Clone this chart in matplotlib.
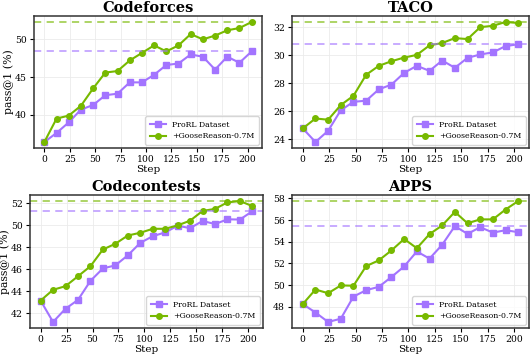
import matplotlib
matplotlib.use("Agg")
import matplotlib.pyplot as plt
from matplotlib.ticker import MultipleLocator

steps = [0, 12, 24, 36, 48, 60, 72, 84, 96, 108, 120, 132, 144, 156, 168, 180, 192, 204]

titles = ["Codeforces", "TACO", "Codecontests", "APPS"]
ytick_step = [5, 2, 2, 2]

prorl_codeforces = [36.4, 37.6, 39.0, 40.7, 41.3, 42.6, 42.8, 44.3, 44.3, 45.3, 46.6, 46.8, 48.0, 47.7, 46.0, 47.7, 46.9, 48.4]
goose_codeforces = [36.4, 39.5, 39.9, 41.2, 43.5, 45.6, 45.8, 47.2, 48.2, 49.2, 48.4, 49.2, 50.7, 50.0, 50.5, 51.2, 51.5, 52.3]

prorl_taco = [24.77, 23.8, 24.6, 26.07, 26.67, 26.75, 27.56, 27.9, 28.74, 29.24, 28.88, 29.62, 29.1, 29.81, 30.05, 30.2, 30.65, 30.78]
goose_taco = [24.77, 25.48, 25.39, 26.44, 27.1, 28.6, 29.24, 29.57, 29.83, 30.02, 30.7, 30.87, 31.22, 31.15, 32.0, 32.1, 32.37, 32.3]

prorl_codecontests = [43.14, 41.2, 42.4, 43.2, 44.93, 46.06, 46.34, 47.25, 48.38, 48.99, 49.33, 49.94, 49.72, 50.37, 50.09, 50.52, 50.5, 51.26]
goose_codecontests = [43.14, 44.12, 44.45, 45.35, 46.26, 47.78, 48.3, 49.05, 49.3, 49.66, 49.66, 49.97, 50.4, 51.28, 51.47, 52.06, 52.18, 51.72]

prorl_apps = [48.25, 47.47, 46.6, 46.9, 48.94, 49.53, 49.84, 50.75, 51.72, 53.1, 52.44, 53.72, 55.44, 54.72, 55.34, 54.84, 55.06, 54.88]
goose_apps = [48.25, 49.59, 49.25, 49.97, 49.94, 51.75, 52.28, 53.2, 54.25, 53.4, 54.7, 55.5, 56.75, 55.7, 56.06, 56.06, 56.97, 57.75]

PURPLE = "#a374ff"
GREEN = "#77b900"

plt.rcParams["font.family"] = "DejaVu Serif"

W, H = 531, 357
fig = plt.figure(figsize = (W / 100, H / 100), dpi = 100)

# axes boxes in pixels: left, top, right, bottom
boxes = [(34, 16, 262, 148), (292, 16, 529, 148), (30, 195, 263, 328), (292, 195, 529, 328)]

series = [(prorl_codeforces, goose_codeforces), (prorl_taco, goose_taco),
          (prorl_codecontests, goose_codecontests), (prorl_apps, goose_apps)]

for i, (box, title, (prorl, goose)) in enumerate(zip(boxes, titles, series)):
  l, t, r, b = box
  ax = fig.add_axes([l / W, 1 - b / H, (r - l) / W, (b - t) / H])

  ax.plot(steps, prorl, color = PURPLE, marker = "s", markersize = 4, linewidth = 1.5, label = "ProRL Dataset")
  ax.plot(steps, goose, color = GREEN, marker = "o", markersize = 4, linewidth = 1.5, label = "+GooseReason-0.7M")
  ax.axhline(max(prorl), color = PURPLE, linestyle = "--", linewidth = 1.3, alpha = 0.65, dashes = (4, 3))
  ax.axhline(max(goose), color = GREEN, linestyle = "--", linewidth = 1.3, alpha = 0.65, dashes = (4, 3))

  ax.set_title(title, fontsize = 10.5, fontweight = "bold", pad = 3)
  ax.set_xlabel("Step", fontsize = 7.5, labelpad = 1)
  if i % 2 == 0:
    ax.set_ylabel("pass@1 (%)", fontsize = 7.8, labelpad = 1)
  ax.set_xticks([0, 25, 50, 75, 100, 125, 150, 175, 200])
  ax.yaxis.set_major_locator(MultipleLocator(ytick_step[i]))
  ax.tick_params(labelsize = 6.7, length = 3, width = 0.8, pad = 2)
  ax.grid(True, color = "#ebebeb", linewidth = 0.6)
  ax.set_axisbelow(True)
  for s in ax.spines.values():
    s.set_color("#333333")
    s.set_linewidth(1.1)
  ax.legend(loc = "lower right", fontsize = 5.6, handlelength = 2.0, borderpad = 0.6,
            labelspacing = 0.45, borderaxespad = 0.4)

fig.savefig("out.png")
